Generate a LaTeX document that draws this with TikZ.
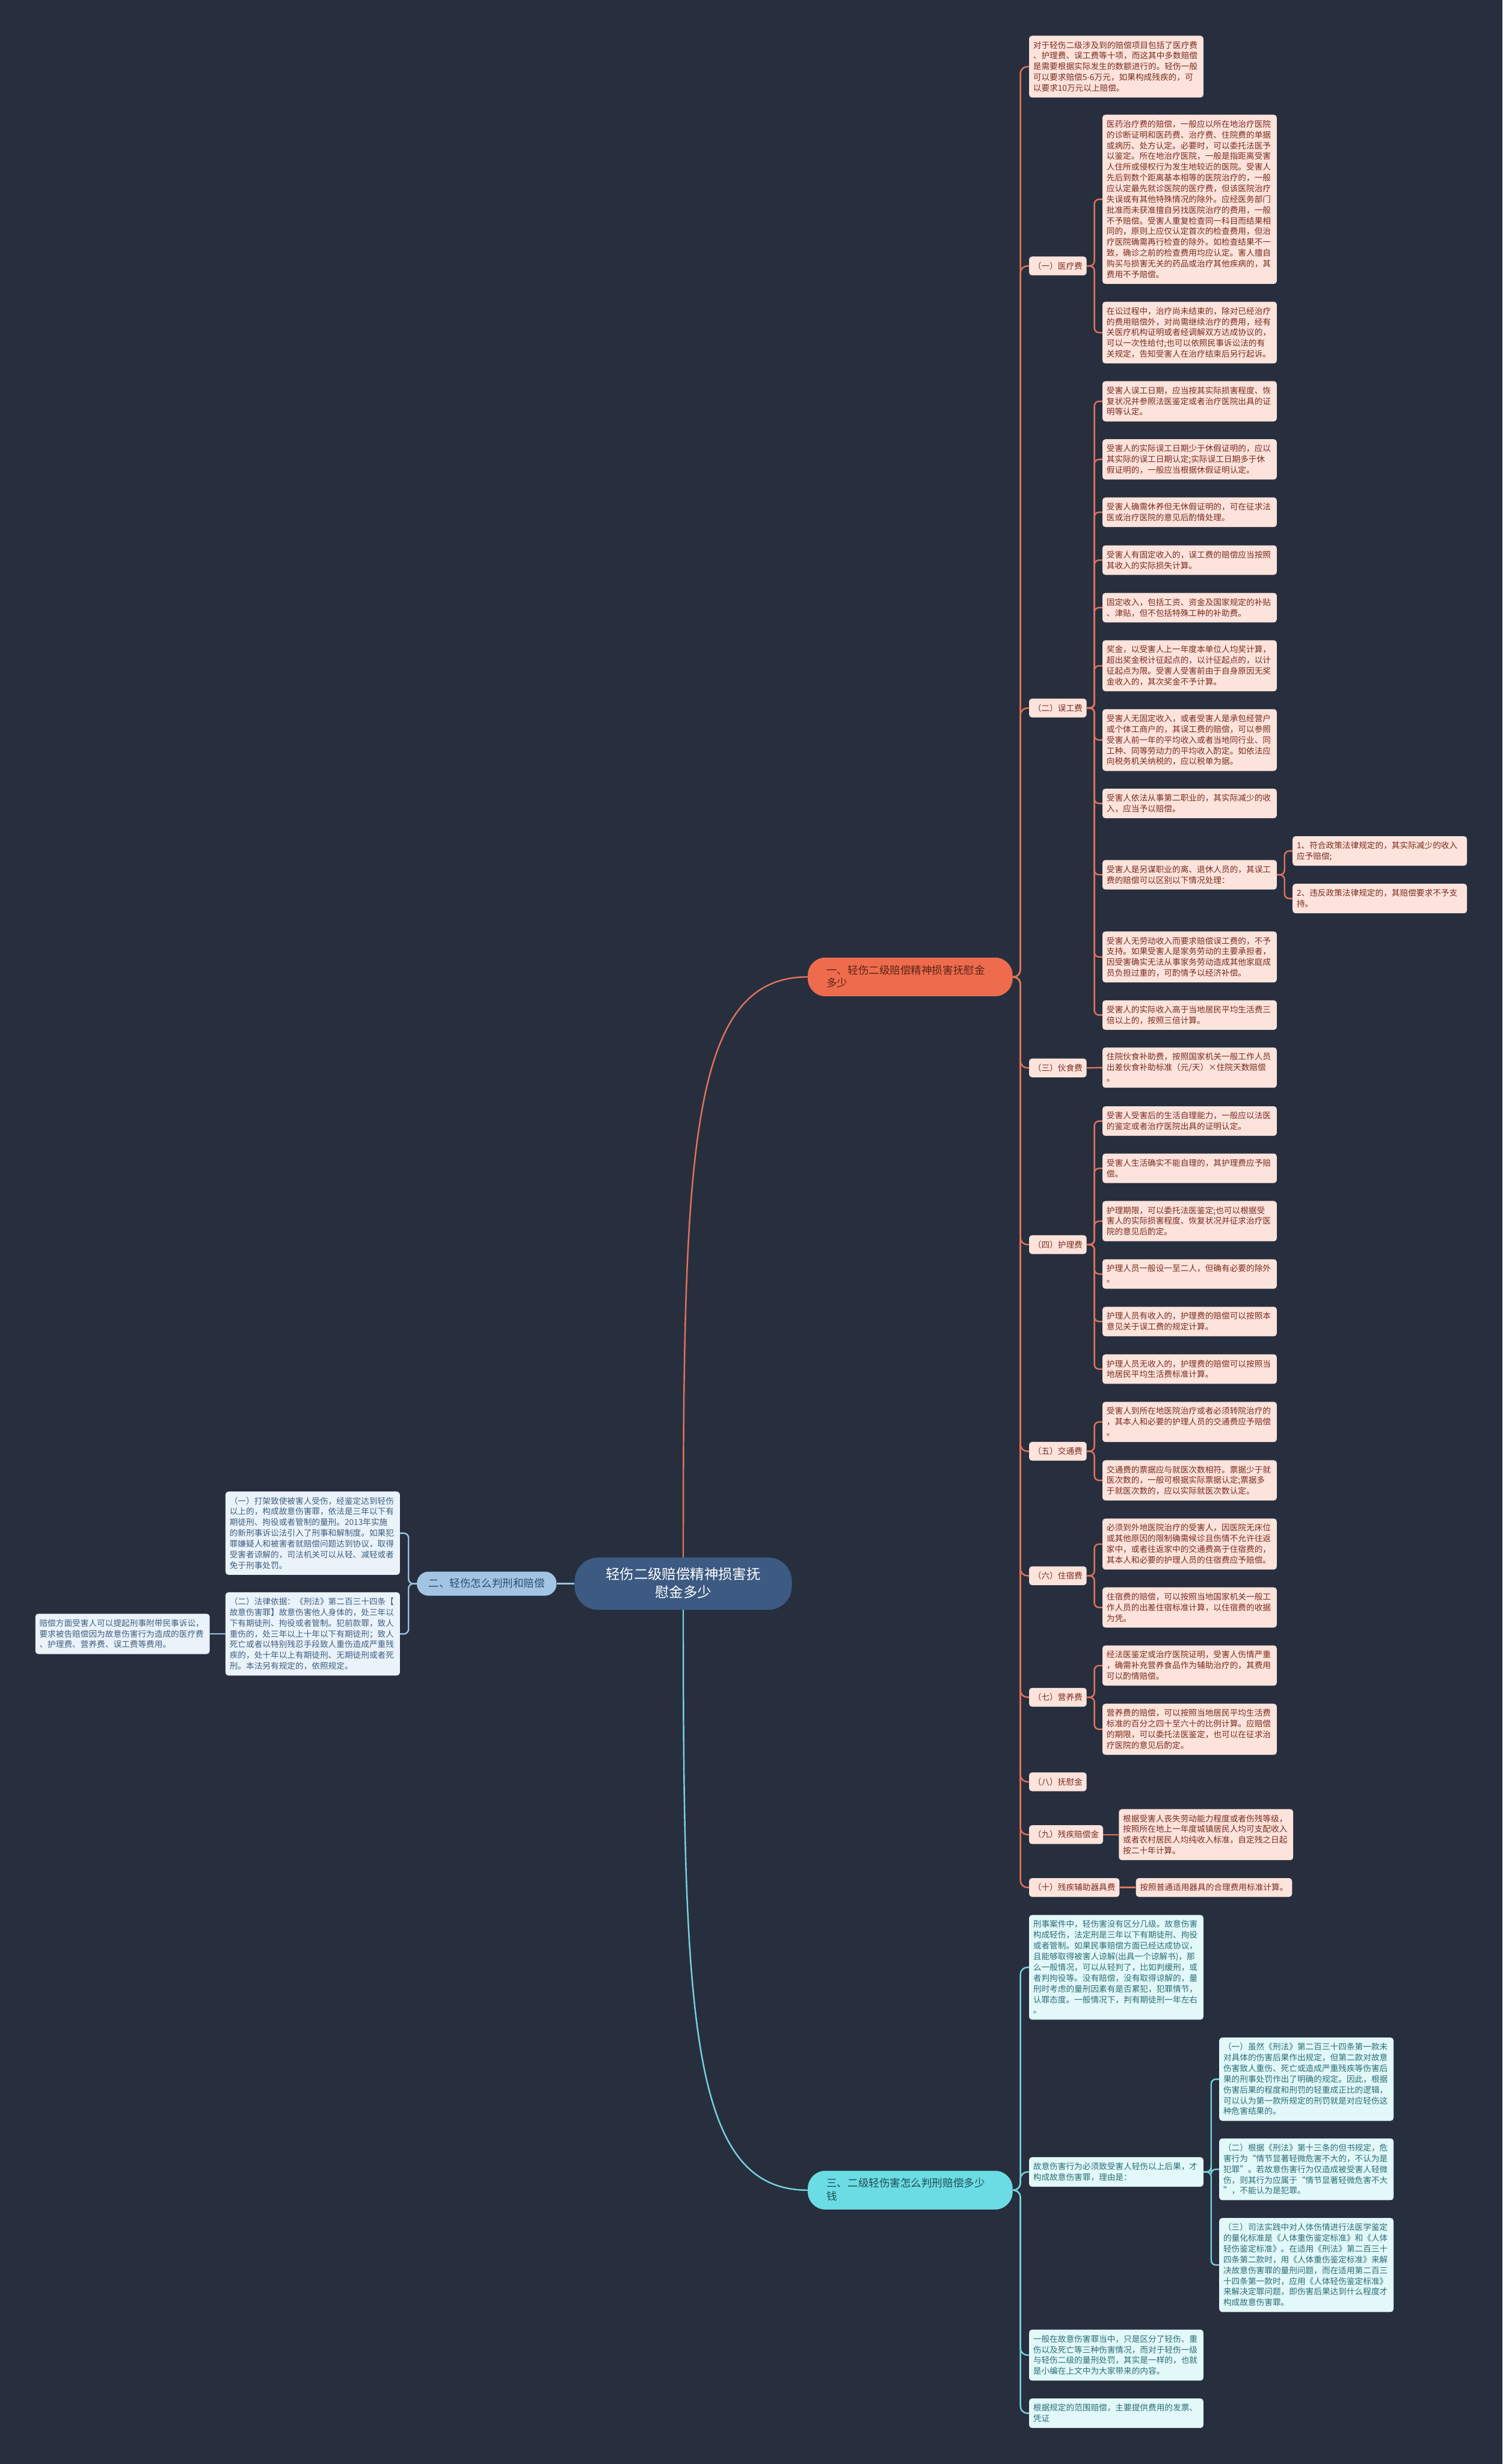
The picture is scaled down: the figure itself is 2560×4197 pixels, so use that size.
\documentclass[tikz,border=0pt]{standalone}
\usepackage{fontspec}
\setmainfont{Noto Sans CJK SC}
\definecolor{bgcol}{HTML}{272F3E}
\definecolor{rootfill}{HTML}{3C5A82}
\definecolor{coralfill}{HTML}{EE6C4D}
\definecolor{coraltext}{HTML}{5B2418}
\definecolor{coralline}{HTML}{E0735A}
\definecolor{pinkfill}{HTML}{FCE3DC}
\definecolor{pinktext}{HTML}{7B2C1F}
\definecolor{skyfill}{HTML}{A2C5E3}
\definecolor{skytext}{HTML}{2C4E6E}
\definecolor{skyline}{HTML}{9DC0DE}
\definecolor{paleblue}{HTML}{EAF3FA}
\definecolor{paletext}{HTML}{3F5F80}
\definecolor{cyanfill}{HTML}{6BDCE3}
\definecolor{cyantext}{HTML}{1E4D57}
\definecolor{cyanline}{HTML}{76D3DC}
\definecolor{icefill}{HTML}{E2F8F9}
\definecolor{icetext}{HTML}{2B6E76}

\begin{document}
\begin{tikzpicture}[x=1pt, y=1pt,
	leaf/.style={anchor=west, rounded corners=5pt, inner xsep=7pt, inner ysep=6.85pt, font=\fontsize{14}{18.3}\selectfont, execute at begin node={\rule[-4pt]{0pt}{18.3pt}}, execute at end node={\rule[-4pt]{0pt}{18.3pt}}},
	pinkitem/.style={leaf, fill=pinkfill, text=pinktext},
	pinkbox/.style={pinkitem, text width=283pt, align=left},
	bluebox/.style={leaf, fill=paleblue, text=paletext, text width=283pt, align=left},
	icebox/.style={leaf, fill=icefill, text=icetext, text width=283pt, align=left},
	topic/.style={anchor=west, inner ysep=11pt, font=\fontsize{18}{22}\selectfont, execute at begin node={\rule[-5pt]{0pt}{22pt}}, execute at end node={\rule[-5pt]{0pt}{22pt}}},
	bigtopic/.style={topic, rounded corners=30pt, text width=285pt, align=left, inner xsep=32pt},
	rootnode/.style={fill=rootfill, text=white, rounded corners=40pt, text width=270pt, align=center, inner xsep=50pt, inner ysep=14.5pt, font=\fontsize{24}{30}\selectfont, execute at begin node={\rule[-7pt]{0pt}{30pt}}, execute at end node={\rule[-7pt]{0pt}{30pt}}},
	redlink/.style={draw=coralline, line width=2.5pt, rounded corners=12pt},
	skylink/.style={draw=skyline, line width=2.5pt, rounded corners=12pt},
	icelink/.style={draw=cyanline, line width=2.5pt, rounded corners=12pt}]
	\fill[bgcol] (0,0) rectangle (2560,-4197);
	\useasboundingbox (0,0) rectangle (2560,-4197);

	\node[rootnode] (root) at (1164,-2697.5) {轻伤二级赔偿精神损害抚\\慰金多少};
	\node[bigtopic, fill=coralfill, text=coraltext] (sec1) at (1376,-1664) {一、轻伤二级赔偿精神损害抚慰金\\多少};
	\node[topic, rounded corners=20pt, inner ysep=9.5pt, inner xsep=20pt, fill=skyfill, text=skytext] (sec2) at (710,-2697.5) {二、轻伤怎么判刑和赔偿};
	\node[bigtopic, fill=cyanfill, text=cyantext] (sec3) at (1376,-3730.5) {三、二级轻伤害怎么判刑赔偿多少\\钱};

	\node[pinkbox] (intro) at (1753,-113.5) {对于轻伤二级涉及到的赔偿项目包括了医疗费\\、护理费、误工费等十项，而这其中多数赔偿\\是需要根据实际发生的数额进行的。轻伤一般\\可以要求赔偿5-6万元，如果构成残疾的，可\\以要求10万元以上赔偿。};
	\node[pinkitem] (med) at (1753,-453) {（一）医疗费};
	\node[pinkitem] (wage) at (1753,-1206) {（二）误工费};
	\node[pinkitem] (food) at (1753,-1819) {（三）伙食费};
	\node[pinkitem] (nurse) at (1753,-2120) {（四）护理费};
	\node[pinkitem] (traffic) at (1753,-2472) {（五）交通费};
	\node[pinkitem] (lodge) at (1753,-2684) {（六）住宿费};
	\node[pinkitem] (nutri) at (1753,-2891) {（七）营养费};
	\node[pinkitem] (solace) at (1753,-3035) {（八）抚慰金};
	\node[pinkitem] (disab) at (1753,-3125) {（九）残疾赔偿金};
	\node[pinkitem] (aids) at (1753,-3215) {（十）残疾辅助器具费};

	\node[pinkbox] (med1) at (1878,-339.5) {医药治疗费的赔偿，一般应以所在地治疗医院\\的诊断证明和医药费、治疗费、住院费的单据\\或病历、处方认定。必要时，可以委托法医予\\以鉴定。所在地治疗医院，一般是指距离受害\\人住所或侵权行为发生地较近的医院。受害人\\先后到数个距离基本相等的医院治疗的，一般\\应认定最先就诊医院的医疗费，但该医院治疗\\失误或有其他特殊情况的除外。应经医务部门\\批准而未获准擅自另找医院治疗的费用，一般\\不予赔偿。受害人重复检查同一科目而结果相\\同的，原则上应仅认定首次的检查费用，但治\\疗医院确需再行检查的除外。如检查结果不一\\致，确诊之前的检查费用均应认定。害人擅自\\购买与损害无关的药品或治疗其他疾病的，其\\费用不予赔偿。};
	\node[pinkbox] (med2) at (1878,-566.5) {在讼过程中，治疗尚未结束的，除对已经治疗\\的费用赔偿外，对尚需继续治疗的费用，经有\\关医疗机构证明或者经调解双方达成协议的，\\可以一次性给付;也可以依照民事诉讼法的有\\关规定，告知受害人在治疗结束后另行起诉。};

	\node[pinkbox] (wage1) at (1878,-683.5) {受害人误工日期，应当按其实际损害程度、恢\\复状况并参照法医鉴定或者治疗医院出具的证\\明等认定。};
	\node[pinkbox] (wage2) at (1878,-782.5) {受害人的实际误工日期少于休假证明的，应以\\其实际的误工日期认定;实际误工日期多于休\\假证明的，一般应当根据休假证明认定。};
	\node[pinkbox] (wage3) at (1878,-872.5) {受害人确需休养但无休假证明的，可在征求法\\医或治疗医院的意见后酌情处理。};
	\node[pinkbox] (wage4) at (1878,-954) {受害人有固定收入的，误工费的赔偿应当按照\\其收入的实际损失计算。};
	\node[pinkbox] (wage5) at (1878,-1035) {固定收入，包括工资、资金及国家规定的补贴\\、津贴，但不包括特殊工种的补助费。};
	\node[pinkbox] (wage6) at (1878,-1134) {奖金，以受害人上一年度本单位人均奖计算，\\超出奖金税计征起点的，以计征起点的，以计\\征起点为限。受害人受害前由于自身原因无奖\\金收入的，其次奖金不予计算。};
	\node[pinkbox] (wage7) at (1878,-1260.5) {受害人无固定收入，或者受害人是承包经营户\\或个体工商户的，其误工费的赔偿，可以参照\\受害人前一年的平均收入或者当地同行业、同\\工种、同等劳动力的平均收入酌定。如依法应\\向税务机关纳税的，应以税单为据。};
	\node[pinkbox] (wage8) at (1878,-1368.5) {受害人依法从事第二职业的，其实际减少的收\\入，应当予以赔偿。};
	\node[pinkbox] (wage9) at (1878,-1490) {受害人是另谋职业的离、退休人员的，其误工\\费的赔偿可以区别以下情况处理：};
	\node[pinkbox] (wage9a) at (2202,-1449.5) {1、符合政策法律规定的，其实际减少的收入\\应予赔偿;};
	\node[pinkbox] (wage9b) at (2202,-1530.5) {2、违反政策法律规定的，其赔偿要求不予支\\持。};
	\node[pinkbox] (wage10) at (1878,-1630) {受害人无劳动收入而要求赔偿误工费的，不予\\支持。如果受害人是家务劳动的主要承担者，\\因受害确实无法从事家务劳动造成其他家庭成\\员负担过重的，可酌情予以经济补偿。};
	\node[pinkbox] (wage11) at (1878,-1729) {受害人的实际收入高于当地居民平均生活费三\\倍以上的，按照三倍计算。};

	\node[pinkbox] (food1) at (1878,-1818.5) {住院伙食补助费，按照国家机关一般工作人员\\出差伙食补助标准（元/天）×住院天数赔偿\\。};

	\node[pinkbox] (nurse1) at (1878,-1909.5) {受害人受害后的生活自理能力，一般应以法医\\的鉴定或者治疗医院出具的证明认定。};
	\node[pinkbox] (nurse2) at (1878,-1990) {受害人生活确实不能自理的，其护理费应予赔\\偿。};
	\node[pinkbox] (nurse3) at (1878,-2080) {护理期限，可以委托法医鉴定;也可以根据受\\害人的实际损害程度、恢复状况并征求治疗医\\院的意见后酌定。};
	\node[pinkbox] (nurse4) at (1878,-2170) {护理人员一般设一至二人，但确有必要的除外\\。};
	\node[pinkbox] (nurse5) at (1878,-2251) {护理人员有收入的，护理费的赔偿可以按照本\\意见关于误工费的规定计算。};
	\node[pinkbox] (nurse6) at (1878,-2332) {护理人员无收入的，护理费的赔偿可以按照当\\地居民平均生活费标准计算。};

	\node[pinkbox] (traffic1) at (1878,-2422) {受害人到所在地医院治疗或者必须转院治疗的\\，其本人和必要的护理人员的交通费应予赔偿\\。};
	\node[pinkbox] (traffic2) at (1878,-2521.5) {交通费的票据应与就医次数相符。票据少于就\\医次数的，一般可根据实际票据认定;票据多\\于就医次数的，应以实际就医次数认定。};

	\node[pinkbox] (lodge1) at (1878,-2630) {必须到外地医院治疗的受害人，因医院无床位\\或其他原因的限制确需候诊且伤情不允许往返\\家中，或者往返家中的交通费高于住宿费的，\\其本人和必要的护理人员的住宿费应予赔偿。};
	\node[pinkbox] (lodge2) at (1878,-2738) {住宿费的赔偿，可以按照当地国家机关一般工\\作人员的出差住宿标准计算，以住宿费的收据\\为凭。};

	\node[pinkbox] (nutri1) at (1878,-2837) {经法医鉴定或治疗医院证明，受害人伤情严重\\，确需补充营养食品作为辅助治疗的，其费用\\可以酌情赔偿。};
	\node[pinkbox] (nutri2) at (1878,-2945.5) {营养费的赔偿，可以按照当地居民平均生活费\\标准的百分之四十至六十的比例计算。应赔偿\\的期限，可以委托法医鉴定，也可以在征求治\\疗医院的意见后酌定。};

	\node[pinkbox] (disab1) at (1906,-3125) {根据受害人丧失劳动能力程度或者伤残等级，\\按照所在地上一年度城镇居民人均可支配收入\\或者农村居民人均纯收入标准，自定残之日起\\按二十年计算。};
	\node[pinkitem] (aids1) at (1935,-3215) {按照普通适用器具的合理费用标准计算。};

	\node[bluebox] (law1) at (384,-2611.5) {（一）打架致使被害人受伤，经鉴定达到轻伤\\以上的，构成故意伤害罪，依法是三年以下有\\期徒刑、拘役或者管制的量刑。2013年实施\\的新刑事诉讼法引入了刑事和解制度。如果犯\\罪嫌疑人和被害者就赔偿问题达到协议，取得\\受害者谅解的，司法机关可以从轻、减轻或者\\免于刑事处罚。};
	\node[bluebox] (law2) at (384,-2783) {（二）法律依据：《刑法》第二百三十四条【\\故意伤害罪】故意伤害他人身体的，处三年以\\下有期徒刑、拘役或者管制。犯前款罪，致人\\重伤的，处三年以上十年以下有期徒刑；致人\\死亡或者以特别残忍手段致人重伤造成严重残\\疾的，处十年以上有期徒刑、无期徒刑或者死\\刑。本法另有规定的，依照规定。};
	\node[bluebox] (civil) at (60,-2783) {赔偿方面受害人可以提起刑事附带民事诉讼，\\要求被告赔偿因为故意伤害行为造成的医疗费\\、护理费、营养费、误工费等费用。};

	\node[icebox] (crim) at (1753,-3351) {刑事案件中，轻伤害没有区分几级。故意伤害\\构成轻伤，法定刑是三年以下有期徒刑、拘役\\或者管制。如果民事赔偿方面已经达成协议，\\且能够取得被害人谅解(出具一个谅解书)，那\\么一般情况，可以从轻判了，比如判缓刑，或\\者判拘役等。没有赔偿，没有取得谅解的，量\\刑时考虑的量刑因素有是否累犯，犯罪情节，\\认罪态度。一般情况下，判有期徒刑一年左右\\。};
	\node[icebox] (intent) at (1753,-3699.5) {故意伤害行为必须致受害人轻伤以上后果，才\\构成故意伤害罪，理由是：};
	\node[icebox] (intent1) at (2077,-3541.5) {（一）虽然《刑法》第二百三十四条第一款未\\对具体的伤害后果作出规定，但第二款对故意\\伤害致人重伤、死亡或造成严重残疾等伤害后\\果的刑事处罚作出了明确的规定。因此，根据\\伤害后果的程度和刑罚的轻重成正比的逻辑，\\可以认为第一款所规定的刑罚就是对应轻伤这\\种危害结果的。};
	\node[icebox] (intent2) at (2077,-3695) {（二）根据《刑法》第十三条的但书规定，危\\害行为“情节显著轻微危害不大的，不认为是\\犯罪”。若故意伤害行为仅造成被受害人轻微\\伤，则其行为应属于“情节显著轻微危害不大\\”，不能认为是犯罪。};
	\node[icebox] (intent3) at (2077,-3858) {（三）司法实践中对人体伤情进行法医学鉴定\\的量化标准是《人体重伤鉴定标准》和《人体\\轻伤鉴定标准》。在适用《刑法》第二百三十\\四条第二款时，用《人体重伤鉴定标准》来解\\决故意伤害罪的量刑问题，而在适用第二百三\\十四条第一款时，应用《人体轻伤鉴定标准》\\来解决定罪问题，即伤害后果达到什么程度才\\构成故意伤害罪。};
	\node[icebox] (same) at (1753,-4011.5) {一般在故意伤害罪当中，只是区分了轻伤、重\\伤以及死亡等三种伤害情况，而对于轻伤一级\\与轻伤二级的量刑处罚，其实是一样的，也就\\是小编在上文中为大家带来的内容。};
	\node[icebox] (proof) at (1753,-4110.5) {根据规定的范围赔偿，主要提供费用的发票、\\凭证};

	\draw[redlink] (root.north) .. controls +(0,700) and +(-200,0) .. (sec1.west);
	\draw[skylink] (root.west) -- (sec2.east);
	\draw[icelink] (root.south) .. controls +(0,-700) and +(-200,0) .. (sec3.west);

	\foreach \n in {intro,med,wage,food,nurse,traffic,lodge,nutri,solace,disab,aids}
		\draw[redlink] (sec1.east) -- ++(13,0) |- (\n.west);
	\foreach \n in {med1,med2}
		\draw[redlink, rounded corners=8pt] (med.east) -- ++(13,0) |- (\n.west);
	\foreach \n in {wage1,wage2,wage3,wage4,wage5,wage6,wage7,wage8,wage9,wage10,wage11}
		\draw[redlink, rounded corners=8pt] (wage.east) -- ++(13,0) |- (\n.west);
	\foreach \n in {wage9a,wage9b}
		\draw[redlink, rounded corners=8pt] (wage9.east) -- ++(13,0) |- (\n.west);
	\draw[redlink] (food.east) -- (food1.west);
	\foreach \n in {nurse1,nurse2,nurse3,nurse4,nurse5,nurse6}
		\draw[redlink, rounded corners=8pt] (nurse.east) -- ++(13,0) |- (\n.west);
	\foreach \n in {traffic1,traffic2}
		\draw[redlink, rounded corners=8pt] (traffic.east) -- ++(13,0) |- (\n.west);
	\foreach \n in {lodge1,lodge2}
		\draw[redlink, rounded corners=8pt] (lodge.east) -- ++(13,0) |- (\n.west);
	\foreach \n in {nutri1,nutri2}
		\draw[redlink, rounded corners=8pt] (nutri.east) -- ++(13,0) |- (\n.west);
	\draw[redlink] (disab.east) -- (disab1.west);
	\draw[redlink] (aids.east) -- (aids1.west);

	\foreach \n in {law1,law2}
		\draw[skylink, rounded corners=8pt] (sec2.west) -- ++(-14,0) |- (\n.east);
	\draw[skylink] (law2.west) -- (civil.east);

	\foreach \n in {crim,intent,same,proof}
		\draw[icelink] (sec3.east) -- ++(13,0) |- (\n.west);
	\foreach \n in {intent1,intent2,intent3}
		\draw[icelink, rounded corners=8pt] (intent.east) -- ++(13,0) |- (\n.west);
\end{tikzpicture}
\end{document}
